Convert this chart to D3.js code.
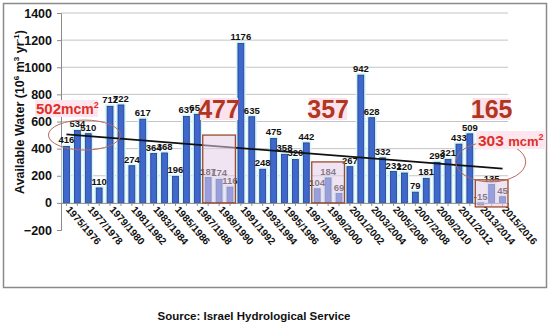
<!DOCTYPE html>
<html lang="en">
<head>
<meta charset="UTF-8">
<title>Available Water</title>
<script src="https://d3js.org/d3.v7.min.js"></script>
<style>
    body { margin: 0; background: #fff; font-family: "Liberation Sans", Arial, sans-serif; }
    svg text { font-family: "Liberation Sans", Arial, sans-serif; font-weight: bold; }
</style>
</head>
<body>
<svg id="chart" width="550" height="325"></svg>
<script>
// Hydrological years
const years = [];
for (let y = 1975; y <= 2015; y++) years.push(y + "/" + (y + 1));

// Available water, 10^6 m3 per year
const values = [416, 534, 510, 110, 712, 722, 274, 617, 364, 368, 196, 637, 653,
    187, 174, 116, 1176, 635, 248, 475, 358, 320, 442, 104, 184, 69, 267, 942,
    628, 332, 231, 220, 79, 181, 299, 321, 433, 509, -15, 135, 45];

const yTicks = [-200, 0, 200, 400, 600, 800, 1000, 1200, 1400];
// trend line value at first and last year
const trend = [505, 252];

// highlighted drought periods: first year, last year, top value, bottom value, label
const droughts = [
    {from: "1988/1989", to: "1990/1991", top: 500, bottom: 0, label: "477"},
    {from: "1998/1999", to: "2000/2001", top: 302, bottom: 0, label: "357"},
    {from: "2013/2014", to: "2015/2016", top: 170, bottom: -30, label: "165"}
];

const svg = d3.select("#chart");

const x = d3.scaleBand().domain(years).range([61, 508]).paddingInner(0.46).paddingOuter(0.23);
const y = d3.scaleLinear().domain([-200, 1400]).range([230, 13]);

// outer frame
svg.append("rect").attr("x", 3.5).attr("y", 3.5).attr("width", 543).attr("height", 284)
    .attr("fill", "none").attr("stroke", "#8a8a8a").attr("stroke-width", 1.5);

// gridlines
svg.append("g").selectAll("line").data(yTicks.filter(d => d > 0)).join("line")
    .attr("x1", 61).attr("x2", 508)
    .attr("y1", d => y(d)).attr("y2", d => y(d))
    .attr("stroke", "#c4c4c4").attr("stroke-width", 1);

// y axis
const yAxis = svg.append("g").attr("transform", "translate(61,0)")
    .call(d3.axisLeft(y).tickValues(yTicks).tickFormat(d3.format("d")).tickSize(4).tickPadding(5));
yAxis.select(".domain").attr("stroke", "#8a8a8a");
yAxis.selectAll(".tick line").attr("stroke", "#8a8a8a");
yAxis.selectAll("text").attr("font-size", "12.5px").attr("fill", "#111");

svg.append("text")
    .attr("transform", "translate(24,112) rotate(-90)")
    .attr("text-anchor", "middle").attr("font-size", "12.5px").attr("fill", "#111")
    .html('Available Water (10<tspan dy="-5" font-size="8px">6</tspan><tspan dy="5"> m</tspan><tspan dy="-5" font-size="8px">3</tspan><tspan dy="5"> yr</tspan><tspan dy="-5" font-size="8px">-1</tspan><tspan dy="5">)</tspan>');

// halo behind bars
svg.append("g").selectAll("rect").data(values).join("rect")
    .attr("x", (d, i) => x(years[i]) - 2)
    .attr("width", x.bandwidth() + 4)
    .attr("y", d => y(Math.max(d, 0)) - 2)
    .attr("height", d => Math.abs(y(d) - y(0)) + 2)
    .attr("fill", "#d6f6f8");

// bars
svg.append("g").selectAll("rect").data(values).join("rect")
    .attr("x", (d, i) => x(years[i]))
    .attr("width", x.bandwidth())
    .attr("y", d => y(Math.max(d, 0)))
    .attr("height", d => Math.abs(y(d) - y(0)))
    .attr("fill", "#3f67cc").attr("stroke", "#203c8c").attr("stroke-width", 0.8);

// x axis at zero
const xAxis = svg.append("g").attr("transform", `translate(0,${y(0)})`)
    .call(d3.axisBottom(x).tickSize(3).tickFormat(""));
xAxis.select(".domain").attr("stroke", "#8a8a8a");
xAxis.selectAll(".tick line").attr("stroke", "#8a8a8a");

// x labels, every second year
svg.append("g").selectAll("text").data(years.filter((d, i) => i % 2 === 0)).join("text")
    .attr("transform", d => `translate(${x(d) + x.bandwidth() / 2 - 1},${y(0) + 7}) rotate(49)`)
    .attr("font-size", "10px").attr("fill", "#111")
    .text(d => d);

// value labels
svg.append("g").selectAll("text").data(values).join("text")
    .attr("x", (d, i) => x(years[i]) + x.bandwidth() / 2)
    .attr("y", d => y(Math.max(d, 0)) - 3)
    .attr("text-anchor", "middle").attr("font-size", "9.5px").attr("fill", "#111")
    .text(d => d);

// trend line
svg.append("line")
    .attr("x1", x(years[0]) + x.bandwidth() / 2).attr("y1", y(trend[0]))
    .attr("x2", x(years[years.length - 1]) + x.bandwidth() / 2).attr("y2", y(trend[1]))
    .attr("stroke", "#111").attr("stroke-width", 1.8);

// drought boxes
droughts.forEach(d => {
    const x0 = x(d.from) - x.step() * x.paddingInner() / 2;
    const x1 = x(d.to) + x.bandwidth() + x.step() * x.paddingInner() / 2;
    svg.append("rect")
        .attr("x", x0).attr("y", y(d.top))
        .attr("width", x1 - x0).attr("height", y(d.bottom) - y(d.top))
        .attr("fill", "#e4cdea").attr("fill-opacity", 0.55)
        .attr("stroke", "#9c4a2c").attr("stroke-width", 1.3);
    const cx = (x0 + x1) / 2;
    svg.append("rect")
        .attr("x", cx - 19).attr("y", 98).attr("width", 38).attr("height", 22)
        .attr("fill", "#fbe2ec");
    svg.append("text")
        .attr("x", cx).attr("y", 118)
        .attr("text-anchor", "middle").attr("font-size", "25px").attr("fill", "#b2361f")
        .text(d.label);
});

// ellipses around trend start and end
svg.append("ellipse")
    .attr("cx", x(years[1]) + 10).attr("cy", y(500)).attr("rx", 36).attr("ry", 15)
    .attr("fill", "none").attr("stroke", "#b8685e").attr("stroke-width", 1);
svg.append("ellipse")
    .attr("cx", x(years[39]) + 2).attr("cy", y(302)).attr("rx", 35).attr("ry", 20)
    .attr("fill", "none").attr("stroke", "#b8685e").attr("stroke-width", 1);

// mcm labels
svg.append("rect").attr("x", 35).attr("y", 100).attr("width", 63).attr("height", 17).attr("fill", "#fde6ee");
svg.append("text").attr("x", 36).attr("y", 114)
    .attr("font-size", "15px").attr("fill", "#de2f28")
    .html('502<tspan font-size="14px">mcm</tspan><tspan dy="-6" font-size="9px">2</tspan>');
svg.append("rect").attr("x", 476).attr("y", 131).attr("width", 70).attr("height", 18).attr("fill", "#fde6ee");
svg.append("text").attr("x", 478).attr("y", 146)
    .attr("font-size", "15.5px").attr("fill", "#de2f28")
    .html('303 <tspan font-size="13px">mcm</tspan><tspan dy="-6" font-size="9px">2</tspan>');

// source
svg.append("text").attr("x", 254).attr("y", 320)
    .attr("text-anchor", "middle").attr("font-size", "11.5px").attr("fill", "#111")
    .text("Source: Israel Hydrological Service");
</script>
</body>
</html>
